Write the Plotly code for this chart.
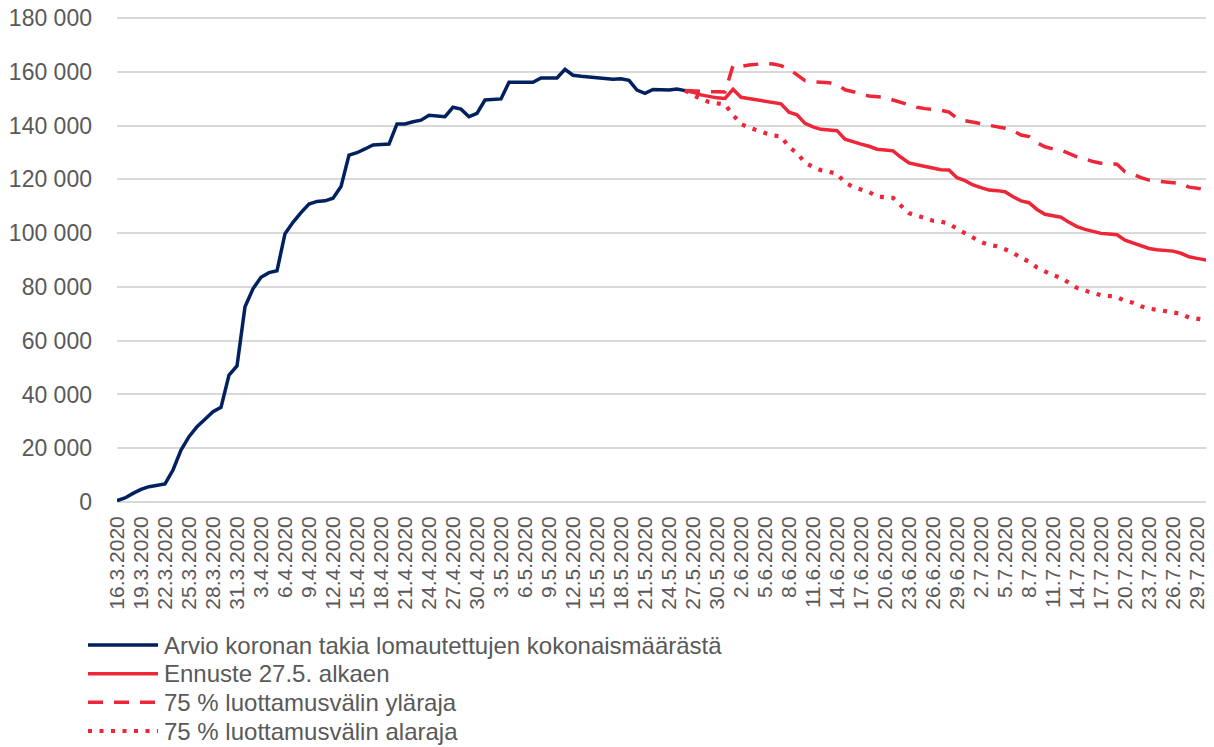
import pandas as pd
import plotly.graph_objects as go

# ---------------- data (values in thousands) ----------------
start_observed = "2020-03-16"
observed = [
    0.5, 1.5, 3.2, 4.7, 5.7, 6.2, 6.7, 11.9, 19.3, 24.3,
    28.0, 30.8, 33.6, 35.2, 47.2, 50.6, 72.6, 79.3, 83.6, 85.3,
    86.0, 99.8, 104.0, 107.6, 110.8, 111.8, 112.0, 113.0, 117.3, 129.0,
    129.9, 131.3, 132.8, 133.0, 133.1, 140.6, 140.6, 141.4, 142.0, 143.8,
    143.5, 143.3, 146.8, 146.1, 143.3, 144.5, 149.5, 149.8, 149.9, 156.1,
    156.1, 156.0, 156.1, 157.7, 157.8, 157.7, 160.9, 158.7, 158.3, 158.0,
    157.7, 157.4, 157.2, 157.4, 156.8, 153.2, 152.0, 153.4, 153.2, 153.2,
    153.6, 153.0,
]

start_forecast = "2020-05-26"
forecast = [
    153.0, 152.4, 151.4, 150.7, 150.3, 150.1, 153.5, 150.5, 150.0, 149.6,
    148.9, 148.4, 148.1, 145.0, 144.0, 140.8, 139.5, 138.6, 138.3, 138.1,
    134.9, 133.9, 133.1, 132.3, 131.2, 130.9, 130.6, 128.2, 126.1, 125.4,
    124.7, 124.0, 123.6, 123.5, 120.6, 119.5, 117.9, 116.9, 116.0, 115.8,
    115.4, 113.5, 112.0, 111.3, 108.8, 107.0, 106.4, 105.9, 104.0, 102.4,
    101.4, 100.7, 99.9, 99.7, 99.4, 97.4, 96.4, 95.2, 94.3, 93.8,
    93.5, 93.3, 92.5, 91.2, 90.6, 90.1, 89.5,
]
upper = [
    153.0, 152.8, 152.7, 152.6, 152.6, 152.5, 162.3, 162.0, 162.5, 162.9,
    163.1, 162.9, 162.3, 161.0, 158.7, 156.7, 156.3, 156.2, 155.9, 155.3,
    153.3, 152.6, 151.6, 151.0, 150.7, 150.5, 149.5, 148.5, 147.5, 146.8,
    146.3, 146.0, 145.7, 145.0, 142.7, 141.8, 141.4, 140.7, 140.1, 139.6,
    139.0, 138.1, 136.5, 135.9, 133.6, 132.1, 131.3, 130.9, 129.7, 128.4,
    127.6, 126.6, 126.0, 125.7, 125.6, 122.8, 121.9, 120.6, 119.7, 119.3,
    119.0, 119.0, 118.5, 117.1, 116.8, 116.3, 115.8,
]
lower = [
    153.0, 151.2, 149.8, 148.8, 148.3, 147.8, 144.0, 140.6, 139.2, 138.2,
    137.2, 136.3, 136.0, 132.0, 129.8, 126.2, 124.6, 123.4, 122.8, 122.1,
    118.8, 117.2, 116.2, 115.3, 113.6, 113.3, 113.1, 110.2, 107.4, 106.5,
    105.5, 104.6, 104.3, 103.5, 101.6, 100.0, 98.3, 96.7, 95.6, 95.1,
    94.0, 92.7, 90.8, 89.4, 87.2, 85.6, 84.3, 83.4, 81.3, 79.6,
    78.6, 77.6, 76.9, 76.6, 76.2, 74.8, 74.1, 72.8, 71.9, 71.5,
    71.1, 70.7, 70.0, 68.6, 68.1, 67.7, 67.3,
]

series_names = [
    "Arvio koronan takia lomautettujen kokonaismäärästä",
    "Ennuste 27.5. alkaen",
    "75 % luottamusvälin yläraja",
    "75 % luottamusvälin alaraja",
]
x_range = ["2020-03-16", "2020-07-31"]
y_ticks = [0, 20000, 40000, 60000, 80000, 100000, 120000, 140000, 160000, 180000]
y_top = 180000

# ---------------- styles ----------------
BLUE = "#002060"
RED = "#ED2638"
GRID = "#D9D9D9"
TEXT = "#595959"
FONT = "Liberation Sans, Arial, sans-serif"
OFF = 8                      # default page (body) margin of the html page
W, H = 1214 - OFF, 747 - OFF
PLOT_TOP, PLOT_BOTTOM = 16, 502          # page pixels (180 000 gridline sits at 18)
PH = PLOT_BOTTOM - PLOT_TOP
ML, MR = 117 - OFF, 1
MT = PLOT_TOP - OFF
MB = H - MT - PH
PW = W - ML - MR
y_range_top = y_top * PH / (PLOT_BOTTOM - 18)

x_obs = pd.date_range(start_observed, periods=len(observed), freq="D")
x_fc = pd.date_range(start_forecast, periods=len(forecast), freq="D")

DASH = "15px,11px"
DOT = "4px,7.5px"

fig = go.Figure()
styles = [
    (x_obs, observed, BLUE, "solid", 3.5),
    (x_fc, forecast, RED, "solid", 3.5),
    (x_fc, upper, RED, DASH, 3.5),
    (x_fc, lower, RED, DOT, 4.2),
]
order = [0, 2, 3, 1]
for i in order:
    xs, vals, col, dash, lw = styles[i]
    fig.add_trace(go.Scatter(
        x=xs, y=[v * 1000 for v in vals], mode="lines", name=series_names[i],
        line=dict(color=col, width=lw, dash=dash), showlegend=False,
    ))

fig.update_layout(
    width=W, height=H,
    margin=dict(l=ML, r=MR, t=MT, b=MB, autoexpand=False),
    paper_bgcolor="white", plot_bgcolor="white",
    separators=". ",
    font=dict(family=FONT, color=TEXT),
    showlegend=False,
)
fig.update_xaxes(
    type="date", range=x_range, automargin=False,
    tick0=x_range[0], dtick=3 * 86400000, tickformat="%-d.%-m.%Y",
    tickangle=-90, tickfont=dict(size=21, color=TEXT, family=FONT),
    showgrid=False, showline=False, zeroline=False, ticks="",
    ticklabelstandoff=9, ticklabeloverflow="allow",
)
fig.update_yaxes(
    range=[0, y_range_top], tickvals=y_ticks, tickformat=",.0f", automargin=False,
    tickfont=dict(size=23, color=TEXT, family=FONT),
    showgrid=True, gridcolor=GRID, gridwidth=2,
    zeroline=True, zerolinecolor=GRID, zerolinewidth=2,
    showline=False, ticks="", ticklabelstandoff=24, ticklabeloverflow="allow",
)

# ---------------- legend (drawn below the plot) ----------------
def px_x(px):            # page pixel -> paper x
    return (px - OFF - ML) / PW

def px_y(py):            # page pixel -> paper y
    return (PLOT_BOTTOM - py) / PH

legend_rows = [645, 673.7, 702.3, 731]
legend_styles = [(BLUE, "solid", 3.5), (RED, "solid", 3.5), (RED, DASH, 3.5), (RED, DOT, 4.2)]
for name, row, (col, dash, lw) in zip(series_names, legend_rows, legend_styles):
    fig.add_shape(type="line", xref="paper", yref="paper",
                  x0=px_x(88), x1=px_x(158), y0=px_y(row), y1=px_y(row),
                  line=dict(color=col, width=lw, dash=dash))
    fig.add_annotation(xref="paper", yref="paper", x=px_x(163), y=px_y(row),
                       text=name, showarrow=False, xanchor="left", yanchor="middle",
                       borderpad=0, font=dict(size=24, color=TEXT, family=FONT))

fig.write_html("out.html")
